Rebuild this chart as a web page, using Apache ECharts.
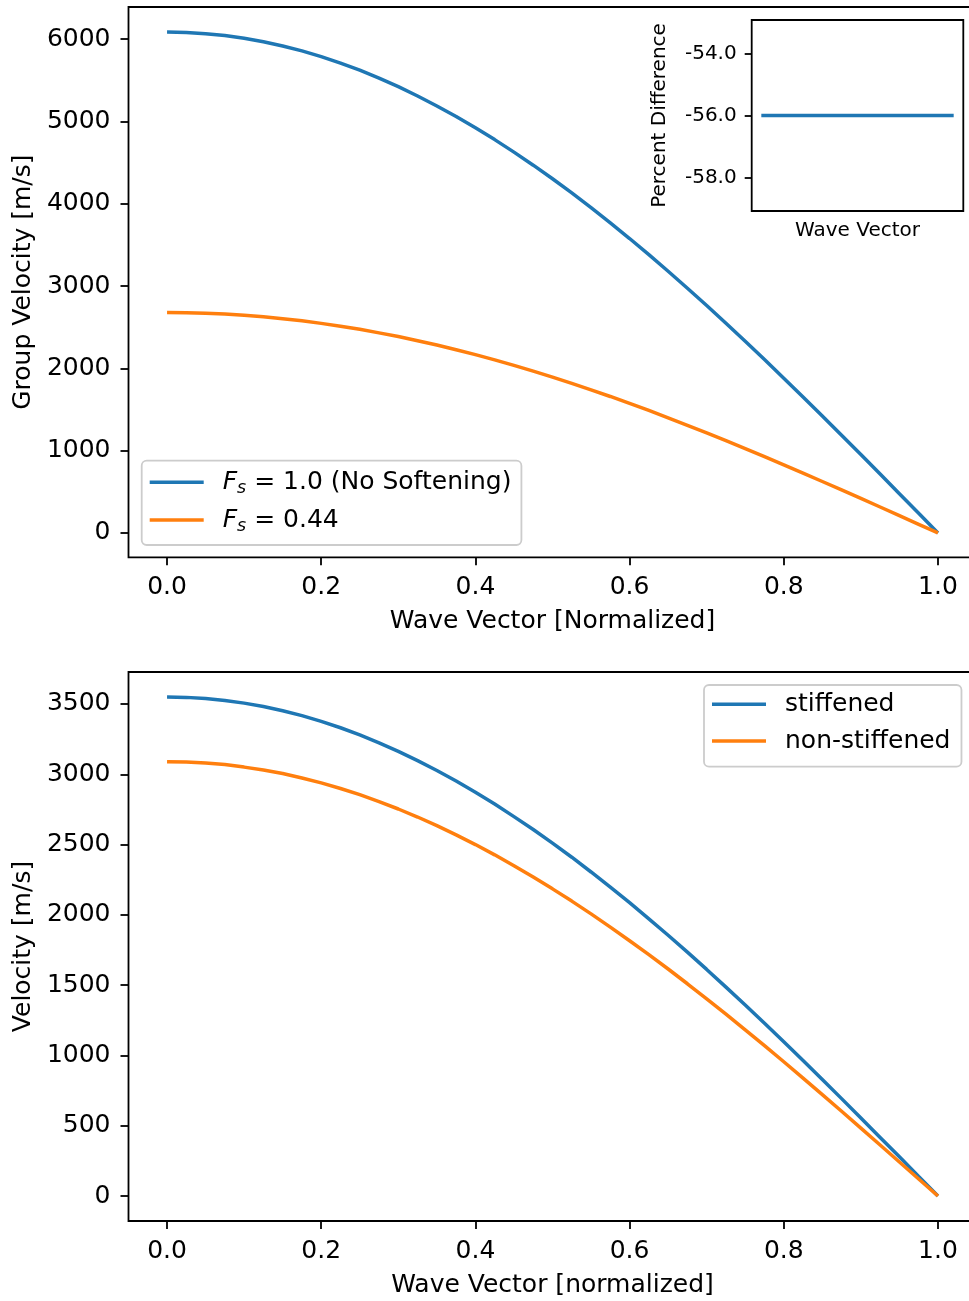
<!DOCTYPE html>
<html><head><meta charset="utf-8">
<script src="https://cdn.jsdelivr.net/npm/echarts@6/dist/echarts.min.js"></script>
<style>html,body{margin:0;padding:0;background:#fff}#c{width:969px;height:1301px}</style>
</head><body><div id="c"></div>
<script>
// ---------- data ----------
const waveVector = [0,0.025,0.05,0.075,0.1,0.125,0.15,0.175,0.2,0.225,0.25,0.275,0.3,0.325,0.35,0.375,0.4,0.425,0.45,0.475,0.5,0.525,0.55,0.575,0.6,0.625,0.65,0.675,0.7,0.725,0.75,0.775,0.8,0.825,0.85,0.875,0.9,0.925,0.95,0.975,1.0];
// top panel: group velocity [m/s]
const groupVelNoSoftening = [6085,6080,6066,6043,6010,5968,5917,5857,5787,5709,5622,5526,5422,5309,5188,5060,4923,4779,4627,4468,4303,4131,3952,3767,3577,3381,3179,2973,2763,2548,2329,2106,1880,1652,1421,1187,952,715,477,239,0];
const groupVelSoftened = [2677,2675,2669,2659,2644,2626,2603,2577,2546,2512,2474,2431,2386,2336,2283,2226,2166,2103,2036,1966,1893,1818,1739,1658,1574,1488,1399,1308,1216,1121,1025,927,827,727,625,522,419,315,210,105,0];
// inset: percent difference
const insetWaveVector = [0,0.1,0.2,0.3,0.4,0.5,0.6,0.7,0.8,0.9,1.0];
const percentDifference = [-56,-56,-56,-56,-56,-56,-56,-56,-56,-56,-56];
// bottom panel: velocity [m/s]
const velStiffened = [3550,3547,3539,3525,3506,3482,3452,3417,3376,3331,3280,3224,3163,3097,3027,2952,2872,2788,2699,2607,2510,2410,2305,2198,2087,1972,1855,1735,1612,1486,1359,1229,1097,964,829,693,555,417,279,139,0];
const velNonStiffened = [3090,3088,3080,3069,3051,3031,3005,2974,2939,2899,2855,2806,2753,2696,2635,2569,2500,2427,2350,2269,2185,2098,2007,1913,1816,1717,1615,1510,1403,1294,1182,1070,955,839,721,603,483,363,242,121,0];
// ticks
const xTicks = [0,0.2,0.4,0.6,0.8,1.0];
const xTickLabels = ['0.0','0.2','0.4','0.6','0.8','1.0'];
const topYTicks = [0,1000,2000,3000,4000,5000,6000];
const topYTickLabels = ['0','1000','2000','3000','4000','5000','6000'];
const insetYTicks = [-58,-56,-54];
const insetYTickLabels = ['-58.0','-56.0','-54.0'];
const bottomYTicks = [0,500,1000,1500,2000,2500,3000,3500];
const bottomYTickLabels = ['0','500','1000','1500','2000','2500','3000','3500'];
// names
const nameNoSoft = 'Fs = 1.0 (No Softening)';
const nameSoft = 'Fs = 0.44';
const nameStiff = 'stiffened';
const nameNonStiff = 'non-stiffened';

// ---------- chart ----------
const FONT = 'DejaVu Sans';
const FS = 25;
const BLUE = '#1f77b4', ORANGE = '#ff7f0e';
function pair(xs, ys){ return xs.map((x,i)=>[x, ys[i]]); }
function lab(ticks, labels){ return v => { const i = ticks.findIndex(t => Math.abs(t - v) < 1e-9); return i >= 0 ? labels[i] : ''; }; }
const tickStyle = {color:'#000', width:1.8};

function xAxisDef(grid, name){
  return {gridIndex:grid, type:'value', min:-0.05, max:1.05,
    axisLine:{show:false,onZero:false},
    axisTick:{show:true, customValues:xTicks, length:8, lineStyle:tickStyle},
    axisLabel:{customValues:xTicks, formatter:lab(xTicks,xTickLabels), fontFamily:FONT, fontSize:FS, color:'#000', margin:18},
    splitLine:{show:false},
    name:name, nameLocation:'middle', nameGap:52,
    nameTextStyle:{fontFamily:FONT, fontSize:FS, color:'#000'}};
}
function yAxisDef(grid, min, max, ticks, labels, name){
  return {gridIndex:grid, type:'value', min:min, max:max,
    axisLine:{show:false,onZero:false},
    axisTick:{show:true, customValues:ticks, length:8, lineStyle:tickStyle},
    axisLabel:{customValues:ticks, formatter:lab(ticks,labels), fontFamily:FONT, fontSize:FS, color:'#000', margin:18},
    splitLine:{show:false},
    name:name, nameLocation:'middle', nameGap:93, nameRotate:90,
    nameTextStyle:{fontFamily:FONT, fontSize:FS, color:'#000'}};
}
const lineSeries = (name, xi, data, color) => ({
  name:name, type:'line', xAxisIndex:xi, yAxisIndex:xi, data:data,
  showSymbol:false, symbol:'none', color:color,
  lineStyle:{color:color, width:3.5}, animation:false, silent:true
});
const legendBase = {
  orient:'vertical', icon:'rect', itemWidth:54, itemHeight:3.5,
  backgroundColor:'rgba(255,255,255,0.8)', borderColor:'#cccccc', borderWidth:1.8, borderRadius:5,
  selectedMode:false,
  textStyle:{fontFamily:FONT, fontSize:FS, color:'#000', lineHeight:30, padding:[0,0,0,14],
    rich:{
      it:{fontFamily:FONT, fontSize:FS, fontStyle:'italic', color:'#000', lineHeight:30},
      sub:{fontFamily:FONT, fontSize:17.5, fontStyle:'italic', color:'#000', lineHeight:17, verticalAlign:'bottom'},
      n:{fontFamily:FONT, fontSize:FS, color:'#000', lineHeight:30}
    }}
};

const option = {
  animation:false,
  backgroundColor:'#fff',
  grid:[
    {left:128.5, top:7, width:848, height:550.3, show:true, borderColor:'#000', borderWidth:1.8, backgroundColor:'transparent', outerBoundsMode:'none', containLabel:false},
    {left:751.7, top:20, width:211.6, height:191, show:true, borderColor:'#000', borderWidth:1.8, backgroundColor:'#fff', z:5, outerBoundsMode:'none', containLabel:false},
    {left:128.5, top:672, width:848, height:549, show:true, borderColor:'#000', borderWidth:1.8, backgroundColor:'transparent', outerBoundsMode:'none', containLabel:false}
  ],
  xAxis:[
    xAxisDef(0,'Wave Vector [Normalized]'),
    {gridIndex:1, type:'value', min:-0.05, max:1.05, axisLine:{show:false,onZero:false}, axisTick:{show:false}, axisLabel:{show:false}, splitLine:{show:false},
      name:'Wave Vector', nameLocation:'middle', nameGap:10, nameTextStyle:{fontFamily:FONT, fontSize:20, color:'#000'}},
    xAxisDef(2,'Wave Vector [normalized]')
  ],
  yAxis:[
    yAxisDef(0,-296,6390,topYTicks,topYTickLabels,'Group Velocity [m/s]'),
    {gridIndex:1, type:'value', min:-59.08, max:-52.92,
      axisLine:{show:false,onZero:false},
      axisTick:{show:true, customValues:insetYTicks, length:7, lineStyle:tickStyle},
      axisLabel:{customValues:insetYTicks, formatter:lab(insetYTicks,insetYTickLabels), fontFamily:FONT, fontSize:20, color:'#000', margin:15},
      splitLine:{show:false},
      name:'Percent Difference', nameLocation:'middle', nameGap:82, nameRotate:90,
      nameTextStyle:{fontFamily:FONT, fontSize:20, color:'#000'}},
    yAxisDef(2,-177.5,3727.5,bottomYTicks,bottomYTickLabels,'Velocity [m/s]')
  ],
  legend:[
    Object.assign({}, legendBase, {left:141.7, top:460.7, padding:[6.6,10,10,8], itemGap:7.7, data:[nameNoSoft, nameSoft],
      formatter: n => n === nameNoSoft ? '{it|F}{sub|s}{n| = 1.0 (No Softening)}' : '{it|F}{sub|s}{n| = 0.44}'}),
    Object.assign({}, legendBase, {left:704, top:685, padding:[4.3,11,10.7,8], itemGap:6.7, data:[nameStiff, nameNonStiff]})
  ],
  series:[
    lineSeries(nameNoSoft, 0, pair(waveVector, groupVelNoSoftening), BLUE),
    lineSeries(nameSoft, 0, pair(waveVector, groupVelSoftened), ORANGE),
    Object.assign(lineSeries('percent', 1, pair(insetWaveVector, percentDifference), BLUE), {z:6}),
    lineSeries(nameStiff, 2, pair(waveVector, velStiffened), BLUE),
    lineSeries(nameNonStiff, 2, pair(waveVector, velNonStiffened), ORANGE)
  ]
};
const chart = echarts.init(document.getElementById('c'), null, {renderer:'canvas'});
chart.setOption(option);
</script>
</body></html>
